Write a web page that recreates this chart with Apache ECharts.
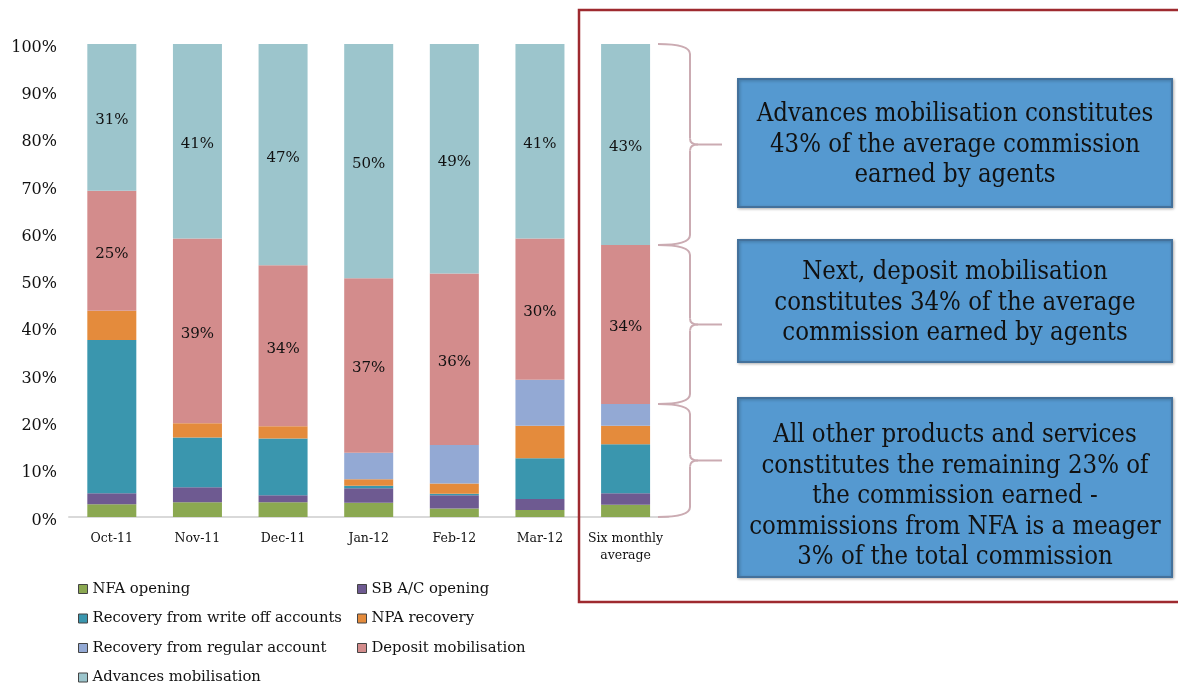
<!DOCTYPE html>
<html><head><meta charset="utf-8">
<script src="https://cdn.jsdelivr.net/npm/echarts@6/dist/echarts.min.js"></script>
<style>html,body{margin:0;padding:0;background:#fff}#c{width:1178px;height:685px}</style>
</head><body><div id="c"></div>
<script>
const categories = ['Oct-11','Nov-11','Dec-11','Jan-12','Feb-12','Mar-12','Six monthly\naverage'];
const nfaOpening      = [2.7, 3.1, 3.1, 3.0, 1.8, 1.5, 2.6];
const sbOpening       = [2.3, 3.2, 1.5, 3.1, 2.8, 2.3, 2.4];
const writeOffRecov   = [32.4, 10.5, 12.0, 0.5, 0.3, 8.6, 10.4];
const npaRecovery     = [6.2, 3.0, 2.6, 1.4, 2.2, 6.9, 3.9];
const regularRecov    = [0, 0, 0, 5.6, 8.1, 9.7, 4.6];
const depositMob      = [25.4, 39.1, 34.0, 36.9, 36.3, 29.9, 33.6];
const advancesMob     = [31.0, 41.1, 46.8, 49.5, 48.5, 41.1, 42.5];
const yTicks = [0,10,20,30,40,50,60,70,80,90,100];
const seriesNames = ['NFA opening','SB A/C opening','Recovery from write off accounts','NPA recovery','Recovery from regular account','Deposit mobilisation','Advances mobilisation'];
const seriesData = [nfaOpening, sbOpening, writeOffRecov, npaRecovery, regularRecov, depositMob, advancesMob];
const seriesColors = ['#8BA851','#6E5A91','#3A96AE','#E48B3C','#93A9D4','#D38C8C','#9CC5CC'];
const labelled = [false,false,false,false,false,true,true];
const noteTexts = [
  'Advances mobilisation constitutes\n43% of the average commission\nearned by agents',
  'Next, deposit mobilisation\nconstitutes 34% of the average\ncommission earned by agents',
  'All other products and services\nconstitutes the remaining 23% of\nthe commission earned -\ncommissions from NFA is a meager\n3% of the total commission'
];

const SERIF = '"DejaVu Serif", "Liberation Serif", serif';
const chart = echarts.init(document.getElementById('c'), null, {renderer:'canvas'});

const series = seriesNames.map((n,i)=>({
  name:n, type:'bar', stack:'total', barWidth:49,
  data: seriesData[i],
  itemStyle:{color:seriesColors[i]},
  label:{show:labelled[i], position:'inside', offset:[0,3], color:'#111', fontFamily:SERIF, fontSize:15,
    formatter:p=>Math.round(p.value)+'%'},
  emphasis:{disabled:true}
}));

const leftNames = [seriesNames[0],seriesNames[2],seriesNames[4],seriesNames[6]];
const rightNames = [seriesNames[1],seriesNames[3],seriesNames[5]];
function legendOf(left, names){
  return {orient:'vertical', left, top:580, height:112, padding:0, data:names,
    icon:'rect', itemWidth:9, itemHeight:9, itemGap:11.5,
    itemStyle:{borderColor:'#444', borderWidth:1},
    textStyle:{fontFamily:SERIF, fontSize:14.8, color:'#111', lineHeight:18},
    selectedMode:false};
}

chart.setOption({
  animation:false,
  backgroundColor:'#fff',
  grid:{left:69, right:509.6, top:44, bottom:168},
  xAxis:{type:'category', data:categories,
    axisLine:{lineStyle:{color:'#d9d9d9', width:2}}, axisTick:{show:false},
    axisLabel:{fontFamily:SERIF, fontSize:12.5, color:'#111', margin:13, lineHeight:17, interval:0}},
  yAxis:{type:'value', min:yTicks[0], max:yTicks[yTicks.length-1], interval:10,
    splitLine:{show:false}, axisLine:{show:false}, axisTick:{show:false},
    axisLabel:{color:'#111', margin:12, formatter:v=>'{v|'+v+'%}',
      rich:{v:{fontFamily:SERIF, fontSize:16, color:'#111', padding:[7,0,0,0]}}}},
  legend:[legendOf(78, leftNames), legendOf(357, rightNames)],
  series
});

// annotations: brace extents derived from the average bar's stacked values
const avgIdx = categories.length-1;
const cum = []; let s=0;
seriesData.forEach(a=>{ s+=a[avgIdx]; cum.push(s); });
const yPix = v => chart.convertToPixel({yAxisIndex:0}, v);
const yTop = yPix(cum[6]), yAdv = yPix(cum[5]), yDep = yPix(cum[4]), yZero = yPix(0);

const braceStyle = {fill:'none', stroke:'#CBABB2', lineWidth:2};
function brace(yt, yb){
  const xs=658, xv=690, xt=722, ym=(yt+yb)/2;
  const parts = [
    {type:'bezierCurve', shape:{x1:xs,y1:yt,cpx1:xv,cpy1:yt,x2:xv,y2:yt+10}},
    {type:'line', shape:{x1:xv,y1:yt+10,x2:xv,y2:ym-6}},
    {type:'bezierCurve', shape:{x1:xv,y1:ym-6,cpx1:xv,cpy1:ym,x2:xv+8,y2:ym}},
    {type:'line', shape:{x1:xv+8,y1:ym,x2:xt,y2:ym}},
    {type:'bezierCurve', shape:{x1:xv+8,y1:ym,cpx1:xv,cpy1:ym,x2:xv,y2:ym+6}},
    {type:'line', shape:{x1:xv,y1:ym+6,x2:xv,y2:yb-10}},
    {type:'bezierCurve', shape:{x1:xv,y1:yb-10,cpx1:xv,cpy1:yb,x2:xs,y2:yb}}
  ];
  return parts.map(p=>Object.assign(p,{style:braceStyle, z:10}));
}
const boxes = [[79,128,2],[240,122,2],[398,179,9]];
let graphic = [
  {type:'rect', shape:{x:579, y:10, width:620, height:592}, style:{fill:'none', stroke:'#9E2A2F', lineWidth:2.5}, z:10}
];
graphic = graphic.concat(brace(yTop, yAdv), brace(yAdv, yDep), brace(yDep, yZero));
boxes.forEach((b,i)=>{
  graphic.push({type:'rect', shape:{x:738, y:b[0], width:434, height:b[1]},
    style:{fill:'#5599D0', stroke:'#44719B', lineWidth:2, shadowBlur:3, shadowColor:'rgba(0,0,0,0.25)', shadowOffsetX:1, shadowOffsetY:1}, z:10});
  graphic.push({type:'text', x:955, y:b[0]+b[1]/2+b[2], z:11,
    style:{text:noteTexts[i], fill:'#111', align:'center', verticalAlign:'middle',
      font:'25.5px "DejaVu Serif Condensed", "DejaVu Serif", serif', lineHeight:30.5}});
});
chart.setOption({graphic});
</script></body></html>
